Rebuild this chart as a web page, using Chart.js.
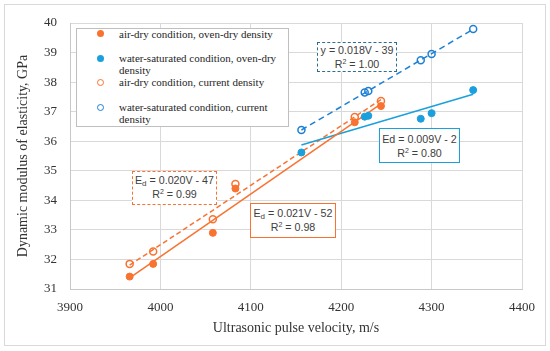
<!DOCTYPE html>
<html>
<head>
<meta charset="utf-8">
<script src="https://cdn.jsdelivr.net/npm/chart.js@4.4.1/dist/chart.umd.min.js"></script>
<style>
    body { margin: 0; background: #fff; }
    #wrap { position: relative; width: 550px; height: 351px; }
    #frame { position: absolute; left: 4px; top: 4px; width: 540px; height: 340px; border: 1px solid #d9d9d9; }
    #chartBox { position: absolute; left: 0; top: 0; width: 550px; height: 351px; }
    .legend { position: absolute; left: 76px; top: 28px; width: 211px; height: 97px; border: 1px solid #bfbfbf; background: #fff;
              font: 11px 'Liberation Serif', serif; color: #262626; overflow: hidden; }
    .item { position: absolute; left: 42px; line-height: 12px; white-space: nowrap; }
    .dot { position: absolute; left: 20px; width: 7px; height: 7px; border-radius: 50%; box-sizing: border-box; }
    .note { position: absolute; background: #fff; font: 10.7px 'Liberation Sans', sans-serif; color: #404040;
            text-align: center; line-height: 14px; box-sizing: border-box; white-space: nowrap; }
    .note sub { font-size: 8px; line-height: 0; vertical-align: -2px; }
    .note sup { font-size: 7px; line-height: 0; vertical-align: 4px; }
</style>
</head>
<body>
<div id="wrap">
    <div id="frame"></div>
    <div id="chartBox"><canvas id="modulusChart"></canvas></div>

    <div class="legend">
        <div class="dot" style="top:1px;background:#FA7230"></div>
        <div class="item" style="top:-1px">air-dry condition, oven-dry density</div>
        <div class="dot" style="top:26px;background:#1AA0DC"></div>
        <div class="item" style="top:23px">water-saturated condition, oven-dry<br>density</div>
        <div class="dot" style="top:50px;border:1.5px solid #FA7230"></div>
        <div class="item" style="top:47px">air-dry condition, current density</div>
        <div class="dot" style="top:75px;border:1.5px solid #1E80D4"></div>
        <div class="item" style="top:72px">water-saturated condition, current<br>density</div>
    </div>

    <div class="note" style="left:317px;top:42px;width:80px;height:30px;border:1.5px dashed #2B6E8E;padding-top:0">y = 0.018V - 39<br>R<sup>2</sup> = 1.00</div>
    <div class="note" style="left:379px;top:128px;width:81px;height:35px;border:1.5px solid #1AA0DC;padding-top:3px">Ed = 0.009V - 2<br>R<sup>2</sup> = 0.80</div>
    <div class="note" style="left:132px;top:171px;width:85px;height:34px;border:1.5px dashed #FA7230;padding-top:1px">E<sub>d</sub> = 0.020V - 47<br>R<sup>2</sup> = 0.99</div>
    <div class="note" style="left:250px;top:203px;width:86px;height:35px;border:1.5px solid #FA7230;padding-top:2px">E<sub>d</sub> = 0.021V - 52<br>R<sup>2</sup> = 0.98</div>
</div>

<script>
// air-dry samples
const airVelocity = [3966, 3992, 4058, 4083, 4215, 4244];
const airDryOvenDensity = [31.42, 31.85, 32.90, 34.40, 36.64, 37.19];
const airDryCurrentDensity = [31.85, 32.27, 33.36, 34.55, 36.82, 37.36];

// water-saturated samples
const wetVelocity = [4156, 4226, 4230, 4288, 4300, 4346];
const wetOvenDensity = [35.62, 36.83, 36.86, 36.76, 36.95, 37.73];
const wetCurrentDensity = [36.38, 37.65, 37.70, 38.74, 38.95, 39.80];

const ORANGE = "#FA7230";
const CYAN = "#1AA0DC";
const BLUE = "#1E80D4";

function points(xs, ys) {
    return xs.map((x, i) => ({ x: x, y: ys[i] }));
}

// least squares line between min and max velocity (Excel linear trendline)
function trend(xs, ys) {
    const n = xs.length;
    const mx = xs.reduce((a, b) => a + b, 0) / n;
    const my = ys.reduce((a, b) => a + b, 0) / n;
    let sxy = 0, sxx = 0;
    xs.forEach((x, i) => {
        sxy += (x - mx) * (ys[i] - my);
        sxx += (x - mx) * (x - mx);
    });
    const k = sxy / sxx;
    const x0 = Math.min(...xs), x1 = Math.max(...xs);
    return [{ x: x0, y: my + k * (x0 - mx) }, { x: x1, y: my + k * (x1 - mx) }];
}

function markers(data, color, filled) {
    return {
        data: data,
        showLine: false,
        pointRadius: 3.5,
        pointBorderWidth: filled ? 1 : 1.5,
        pointBorderColor: color,
        pointBackgroundColor: filled ? color : "rgba(0,0,0,0)",
        order: 1
    };
}

function line(data, color, dash) {
    return {
        data: data,
        showLine: true,
        borderColor: color,
        borderWidth: 1.5,
        borderDash: dash,
        pointRadius: 0,
        order: 2
    };
}

const serif = "'Liberation Serif', serif";
const textColor = "#333333";

new Chart(document.getElementById("modulusChart"), {
    type: "scatter",
    data: {
        datasets: [
            markers(points(airVelocity, airDryOvenDensity), ORANGE, true),
            markers(points(wetVelocity, wetOvenDensity), CYAN, true),
            markers(points(airVelocity, airDryCurrentDensity), ORANGE, false),
            markers(points(wetVelocity, wetCurrentDensity), BLUE, false),
            line(trend(airVelocity, airDryOvenDensity), ORANGE, []),
            line(trend(wetVelocity, wetOvenDensity), CYAN, []),
            line(trend(airVelocity, airDryCurrentDensity), ORANGE, [5, 3]),
            line(trend(wetVelocity, wetCurrentDensity), BLUE, [6, 4])
        ]
    },
    options: {
        responsive: true,
        maintainAspectRatio: false,
        animation: false,
        layout: { padding: { top: 23, right: 28, left: 0, bottom: 0 } },
        plugins: {
            legend: { display: false },
            tooltip: { enabled: false }
        },
        scales: {
            x: {
                type: "linear",
                min: 3900,
                max: 4400,
                afterFit: s => { s.height = 62; },
                ticks: {
                    stepSize: 100,
                    padding: 11,
                    color: textColor,
                    font: { family: serif, size: 13 },
                    callback: v => String(v)
                },
                grid: { color: "#d9d9d9", drawTicks: false },
                border: { color: "#c8c8c8" },
                title: {
                    display: true,
                    text: "Ultrasonic pulse velocity, m/s",
                    color: textColor,
                    font: { family: serif, size: 14 },
                    padding: { top: 0, bottom: 14 }
                }
            },
            y: {
                min: 31,
                max: 40,
                afterFit: s => { s.width = 70; },
                ticks: {
                    stepSize: 1,
                    padding: 13,
                    color: textColor,
                    font: { family: serif, size: 13 }
                },
                grid: { color: "#d9d9d9", drawTicks: false },
                border: { color: "#c8c8c8" },
                title: {
                    display: true,
                    text: "Dynamic modulus of elasticity, GPa",
                    color: textColor,
                    font: { family: serif, size: 14 },
                    padding: { top: 15, bottom: 0 }
                }
            }
        }
    }
});
</script>
</body>
</html>
